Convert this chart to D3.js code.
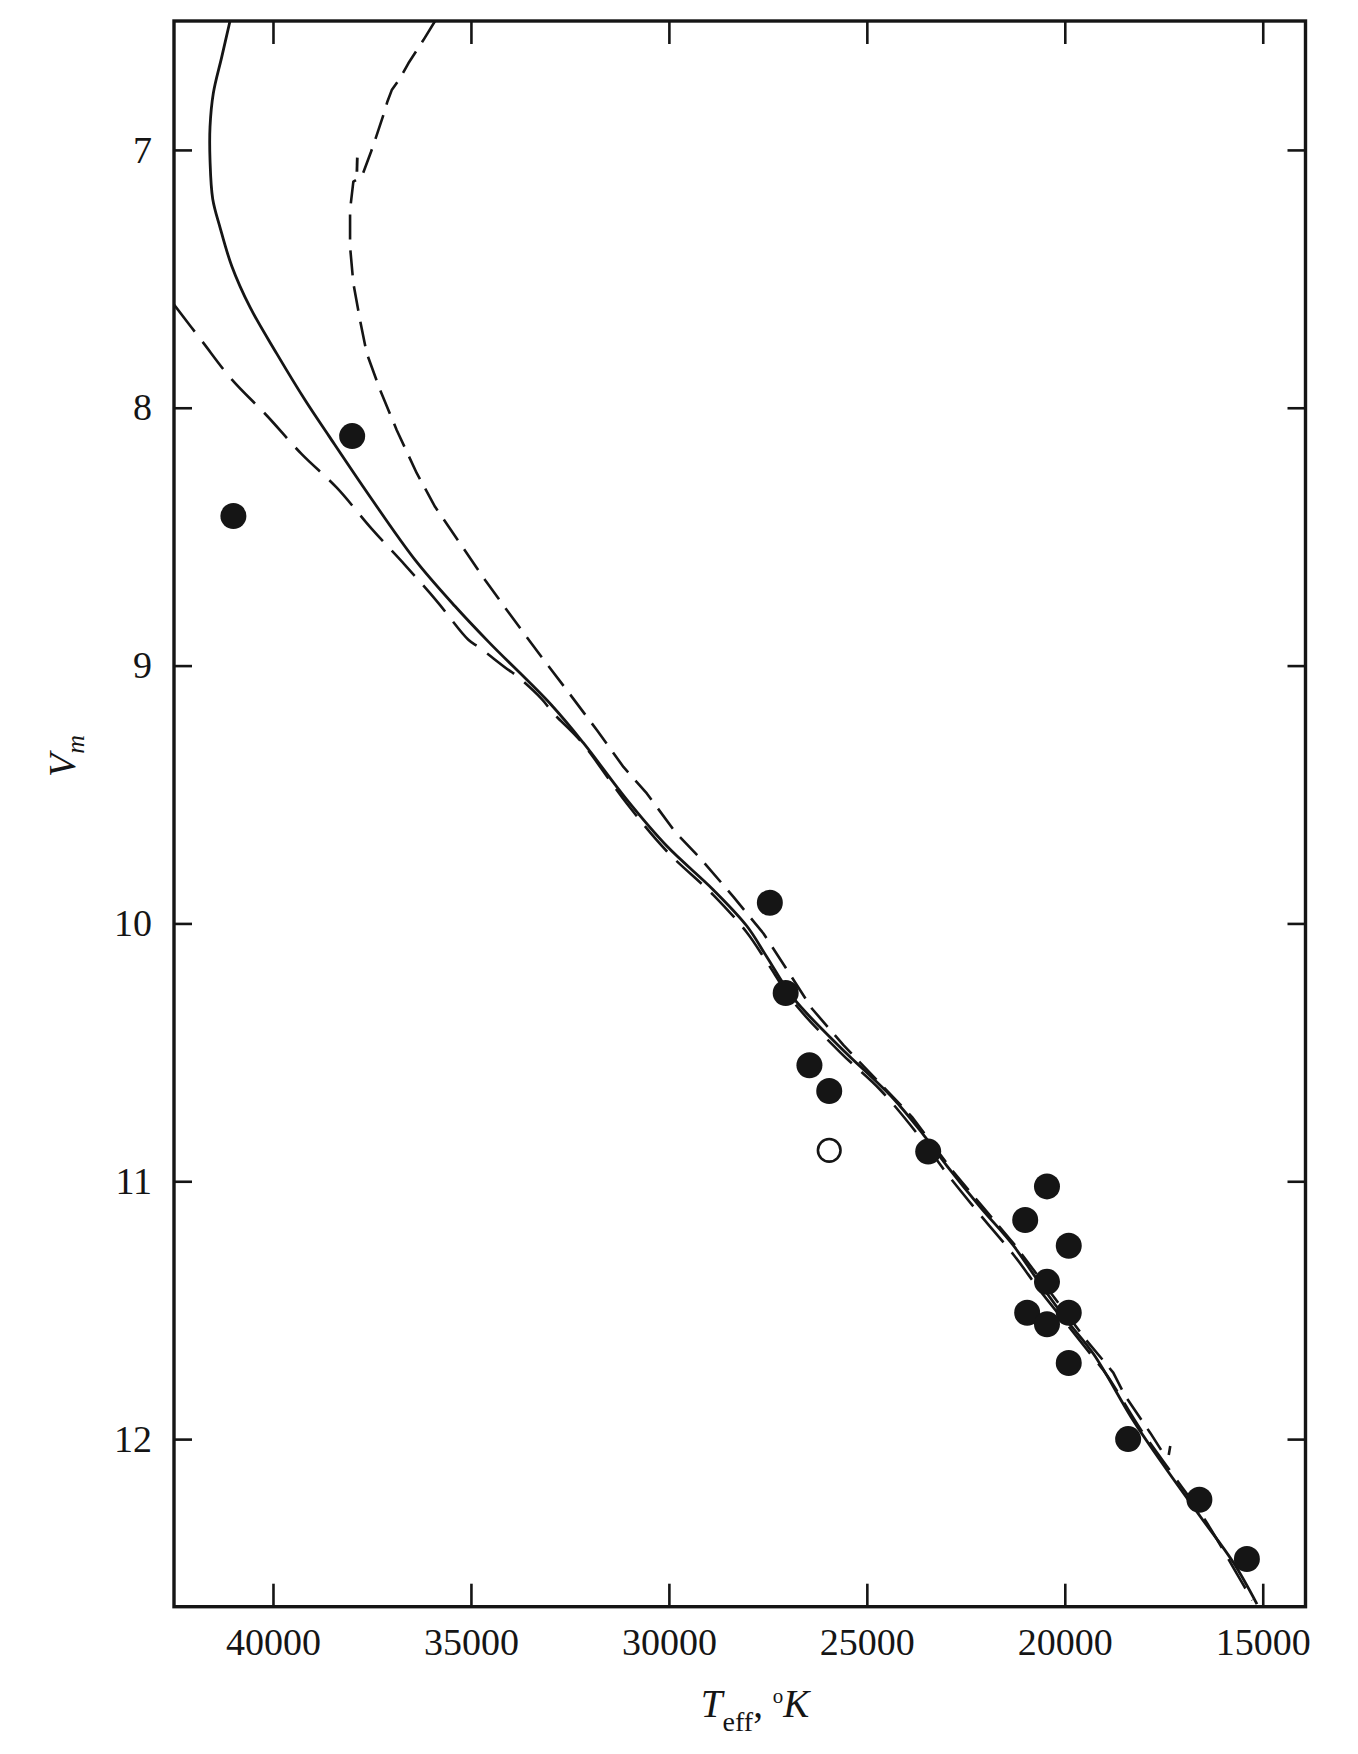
<!DOCTYPE html>
<html>
<head>
<meta charset="utf-8">
<script src="https://cdn.jsdelivr.net/npm/d3@7"></script>
<style>
  html, body { margin: 0; padding: 0; background: #ffffff; }
  svg { display: block; }
  text { font-family: "Liberation Serif", "Times New Roman", serif; fill: #151515; }
</style>
</head>
<body>
<svg id="chart" width="1358" height="1754"></svg>
<script>
// ---- data ----
const xTicks = [40000, 35000, 30000, 25000, 20000, 15000];
const yTicks = [7, 8, 9, 10, 11, 12];

// solid model curve [Teff, Vm]
const solidCurve = [
  [41085,6.50],[41295,6.64],[41507,6.78],[41590,6.91],[41590,7.04],[41522,7.19],[41338,7.30],
  [41042,7.45],[40580,7.61],[39905,7.79],[39190,7.97],[38584,8.11],[37548,8.345],[36411,8.59],
  [35401,8.77],[34542,8.91],[32984,9.15],[32159,9.30],[31063,9.52],[30052,9.70],[28875,9.87],
  [28031,10.01],[27525,10.13],[26853,10.29],[25673,10.48],[24327,10.68],[23569,10.82],
  [22978,10.94],[22136,11.10],[21295,11.25],[20704,11.38],[19946,11.54],[19274,11.67],
  [18263,11.93],[17420,12.12],[16578,12.30],[15737,12.48],[15146,12.64]
];

// long-dashed curve
const longDashCurve = [
  [42500,7.60],[41800,7.74],[41042,7.89],[40158,8.03],[39274,8.18],[38389,8.31],[37505,8.47],
  [36664,8.61],[35863,8.75],[35065,8.90],[34787,8.93],[34112,9.01],[33842,9.04],[33210,9.13],
  [32917,9.185],[32243,9.29],[31063,9.535],[30052,9.72],[28875,9.89],[28031,10.035],[27525,10.15],
  [26853,10.305],[25673,10.50],[24663,10.645],[23652,10.83],[22978,10.97],[22136,11.13],
  [21295,11.285],[20620,11.425],[19946,11.555],[19274,11.685],[18935,11.752],[18094,11.96],
  [17210,12.15],[16452,12.315],[15737,12.50],[15264,12.625]
];

// short-dashed curve (ends with a small hook)
const shortDashCurve = [
  [35906,6.50],[36201,6.574],[36580,6.664],[36790,6.722],[37000,6.768],[37111,6.813],
  [37212,6.865],[37422,6.962],[37523,7.007],[37758,7.104],[37970,7.123],[38053,7.233],
  [38053,7.375],[37970,7.517],[37801,7.66],[37631,7.789],[37295,7.931],[36873,8.087],
  [36368,8.254],[35906,8.384],[35274,8.526],[34643,8.668],[33968,8.811],[33253,8.959],
  [32578,9.095],[31820,9.25],[31148,9.393],[30557,9.496],[29842,9.645],[29168,9.754],
  [28369,9.897],[27611,10.039],[26980,10.188],[26389,10.33],[25590,10.472],[24663,10.621],
  [23862,10.75],[22851,10.957],[22035,11.106],[21227,11.254],[19458,11.616],[18776,11.742],
  [18473,11.833],[17841,11.976],[17546,12.047],[17379,12.066],[17336,12.027]
];
// small stray stroke next to the short-dashed curve
const strayMark = [[37870,7.03],[37880,7.085]];

// observed stars
const filledStars = [
  [38000,8.11],[41000,8.42],[27450,9.92],[27050,10.27],[26450,10.55],[25950,10.65],
  [23450,10.885],[20450,11.02],[21000,11.15],[19900,11.25],[20450,11.39],[20950,11.51],
  [19900,11.51],[20450,11.555],[19900,11.705],[18400,12.0],[16600,12.235],[15400,12.465]
];
const openStars = [[25950,10.88]];

// ---- layout ----
const L = 174, R = 1305.5, T = 21, B = 1606.7;
const ink = "#151515";
const svg = d3.select("#chart");
svg.append("rect").attr("width", 1358).attr("height", 1754).attr("fill", "#ffffff");

const x = d3.scaleLinear().domain([42500, 13920]).range([L, R]);
const y = d3.scaleLinear().domain([6.5, 12.65]).range([T, B]);

svg.append("clipPath").attr("id", "plotClip")
  .append("rect").attr("x", L).attr("y", T).attr("width", R - L).attr("height", B - T);

const plot = svg.append("g").attr("clip-path", "url(#plotClip)");

const smooth = d3.line().x(d => x(d[0])).y(d => y(d[1])).curve(d3.curveCatmullRom.alpha(0.5));
const straight = d3.line().x(d => x(d[0])).y(d => y(d[1]));

plot.append("path").datum(longDashCurve).attr("d", smooth)
  .attr("fill", "none").attr("stroke", ink).attr("stroke-width", 2.6)
  .attr("stroke-dasharray", "34,13");
plot.append("path").datum(shortDashCurve).attr("d", straight)
  .attr("fill", "none").attr("stroke", ink).attr("stroke-width", 2.6)
  .attr("stroke-dasharray", "25,11").attr("stroke-linejoin", "round");
plot.append("path").datum(strayMark).attr("d", straight)
  .attr("fill", "none").attr("stroke", ink).attr("stroke-width", 2.8);
plot.append("path").datum(solidCurve).attr("d", smooth)
  .attr("fill", "none").attr("stroke", ink).attr("stroke-width", 2.8);

plot.selectAll("circle.filled").data(filledStars).join("circle")
  .attr("class", "filled")
  .attr("cx", d => x(d[0])).attr("cy", d => y(d[1])).attr("r", 13)
  .attr("fill", ink);
plot.selectAll("circle.open").data(openStars).join("circle")
  .attr("class", "open")
  .attr("cx", d => x(d[0])).attr("cy", d => y(d[1])).attr("r", 11.3)
  .attr("fill", "#ffffff").attr("stroke", ink).attr("stroke-width", 2.6);

// ---- axes ----
function styleAxis(g) {
  g.select(".domain").remove();
  g.selectAll(".tick line").attr("stroke", ink).attr("stroke-width", 2.6);
  g.selectAll(".tick text").attr("fill", ink)
    .style("font-family", '"Liberation Serif", "Times New Roman", serif')
    .style("font-size", "38px");
}

svg.append("g").attr("transform", `translate(0,${B})`)
  .call(d3.axisBottom(x).tickValues(xTicks).tickFormat(d3.format("d")).tickSize(-23).tickPadding(21))
  .call(styleAxis);
svg.append("g").attr("transform", `translate(0,${T})`)
  .call(d3.axisTop(x).tickValues(xTicks).tickFormat("").tickSize(-23))
  .call(styleAxis);
svg.append("g").attr("transform", `translate(${L},0)`)
  .call(d3.axisLeft(y).tickValues(yTicks).tickFormat(d3.format("d")).tickSize(-18).tickPadding(22))
  .call(styleAxis);
svg.append("g").attr("transform", `translate(${R},0)`)
  .call(d3.axisRight(y).tickValues(yTicks).tickFormat("").tickSize(-18))
  .call(styleAxis);

svg.append("rect").attr("x", L).attr("y", T).attr("width", R - L).attr("height", B - T)
  .attr("fill", "none").attr("stroke", ink).attr("stroke-width", 3.4);

// ---- axis titles ----
const xt = svg.append("text").attr("x", 755).attr("y", 1717).attr("text-anchor", "middle")
  .style("font-size", "39px");
xt.append("tspan").style("font-style", "italic").text("T");
xt.append("tspan").attr("dy", 14).style("font-size", "28px").text("eff");
xt.append("tspan").attr("dy", -14).text(", ");
xt.append("tspan").attr("dy", -14).style("font-size", "21px").text("o");
xt.append("tspan").attr("dy", 14).style("font-style", "italic").text("K");

const yt = svg.append("text").attr("transform", "translate(75,756) rotate(-90)")
  .attr("text-anchor", "middle").style("font-size", "38px");
yt.append("tspan").style("font-style", "italic").text("V");
yt.append("tspan").attr("dy", 9).style("font-style", "italic").style("font-size", "26px").text("m");
</script>
</body>
</html>
